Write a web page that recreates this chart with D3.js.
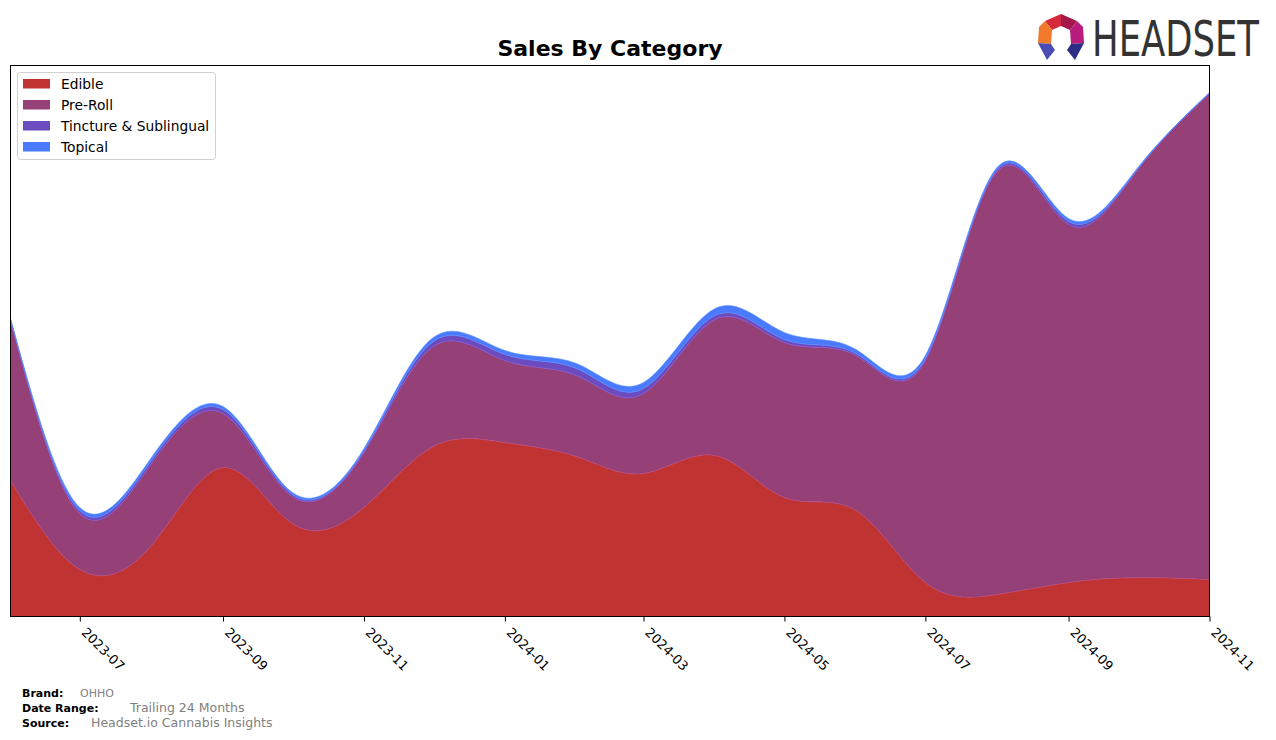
<!DOCTYPE html>
<html>
<head>
<meta charset="utf-8">
<script src="https://cdn.jsdelivr.net/npm/d3@7"></script>
<style>
  html, body { margin: 0; padding: 0; background: #fff; }
  svg { display: block; font-family: "DejaVu Sans", sans-serif; }
</style>
</head>
<body>
<svg id="chart" width="1276" height="740"></svg>
<script>
// ---- Data (arbitrary sales units) ----
const months = ["2023-06","2023-07","2023-08","2023-09","2023-10","2023-11","2023-12",
                "2024-01","2024-02","2024-03","2024-04","2024-05","2024-06","2024-07",
                "2024-08","2024-09","2024-10","2024-11"];
const categories = ["Edible", "Pre-Roll", "Tincture & Sublingual", "Topical"];
const edible   = [136, 47, 71, 149, 93, 109, 170, 174, 160, 143, 161, 119, 106, 34, 22, 34, 39, 37];
const preRoll  = [160, 56, 82, 54, 27, 55, 100, 82, 81, 80, 136, 155, 155, 222, 423, 358, 408, 486];
const tincture = [1, 3, 3, 4, 2, 2, 5, 6, 7, 5, 4, 3, 2, 2, 2, 3, 1, 0.5];
const topical  = [1, 3, 3, 3, 2, 2, 4, 4, 5, 6, 7, 7, 4, 3, 2, 3, 1, 0.5];
const xTicks = ["2023-07","2023-09","2023-11","2024-01","2024-03","2024-05","2024-07","2024-09","2024-11"];
const colors = ["#c03333", "#954077", "#6b4bbd", "#4a7aff"];

// ---- Layout ----
const svg = d3.select("#chart");
const M = { left: 10.5, right: 1209.5, top: 65.5, bottom: 616.5 };
const parse = d3.timeParse("%Y-%m");

const rows = months.map((m, i) => ({
  date: parse(m),
  "Edible": edible[i],
  "Pre-Roll": preRoll[i],
  "Tincture & Sublingual": tincture[i],
  "Topical": topical[i]
}));

const x = d3.scaleTime()
  .domain([parse(months[0]), parse(months[months.length - 1])])
  .range([M.left, M.right]);
const y = d3.scaleLinear().domain([0, 551]).range([M.bottom, M.top]);

const stack = d3.stack().keys(categories);
const series = stack(rows);

const area = d3.area()
  .x(d => x(d.data.date))
  .y0(d => y(d[0]))
  .y1(d => y(d[1]))
  .curve(d3.curveNatural);

svg.append("defs").append("clipPath").attr("id", "clip")
  .append("rect").attr("x", M.left).attr("y", M.top)
  .attr("width", M.right - M.left).attr("height", M.bottom - M.top);

const g = svg.append("g").attr("clip-path", "url(#clip)");
g.selectAll("path.layer").data(series).enter().append("path")
  .attr("class", "layer")
  .attr("d", area)
  .attr("fill", (d, i) => colors[i])
  .attr("stroke", (d, i) => d3.color(colors[i]).brighter(0.5))
  .attr("stroke-width", 0.6);

// frame
svg.append("rect")
  .attr("x", M.left).attr("y", M.top)
  .attr("width", M.right - M.left).attr("height", M.bottom - M.top)
  .attr("fill", "none").attr("stroke", "#000").attr("stroke-width", 1);

// x axis
const axis = d3.axisBottom(x)
  .tickValues(xTicks.map(parse))
  .tickFormat(d3.timeFormat("%Y-%m"))
  .tickSize(5).tickSizeOuter(0);
const ax = svg.append("g").attr("transform", `translate(0,${M.bottom})`).call(axis);
ax.select(".domain").remove();
ax.selectAll(".tick line").attr("stroke", "#000");
ax.selectAll(".tick text")
  .attr("font-size", 13).attr("fill", "#000")
  .attr("font-family", "DejaVu Sans, sans-serif")
  .attr("text-anchor", "start")
  .attr("dy", 0)
  .attr("transform", "translate(6,11) rotate(45)");

// title
svg.append("text")
  .attr("x", (M.left + M.right) / 2).attr("y", 56)
  .attr("text-anchor", "middle")
  .attr("font-size", 22).attr("font-weight", "bold")
  .text("Sales By Category");

// legend
const lg = svg.append("g");
lg.append("rect").attr("x", 17.5).attr("y", 72.5).attr("width", 198).attr("height", 87)
  .attr("rx", 3).attr("fill", "#fff").attr("stroke", "#d0d0d0");
categories.forEach((c, i) => {
  const yy = 84 + i * 21;
  lg.append("rect").attr("x", 23).attr("y", yy - 5).attr("width", 27).attr("height", 9.5)
    .attr("fill", colors[i]);
  lg.append("text").attr("x", 61).attr("y", yy + 5).attr("font-size", 13.8)
    .attr("fill", "#000").text(c);
});

// footer
const foot = [
  ["Brand:", "OHHO", 80, 11],
  ["Date Range:", "Trailing 24 Months", 130, 12.5],
  ["Source:", "Headset.io Cannabis Insights", 91, 12.5]
];
foot.forEach((f, i) => {
  const yy = 697 + i * 15;
  svg.append("text").attr("x", 22).attr("y", yy).attr("font-size", 11)
    .attr("font-weight", "bold").text(f[0]);
  svg.append("text").attr("x", f[2]).attr("y", yy).attr("font-size", f[3])
    .attr("fill", "#808080").text(f[1]);
});

// logo
const logo = svg.append("g");
const P = (pts, c) => logo.append("polygon").attr("points", pts.map(p => p.join(",")).join(" ")).attr("fill", c);
P([[1045,21],[1061,14],[1061,26],[1052,30]], "#d42a3c");
P([[1061,14],[1077,21],[1070,30],[1061,26]], "#a3174a");
P([[1045,21],[1052,30],[1051,44],[1038,43],[1039,27]], "#f0792b");
P([[1077,21],[1083,27],[1084,43],[1071,44],[1070,30]], "#b81c7c");
P([[1038,43],[1051,44],[1055,50],[1047,60]], "#4b4bb5");
P([[1084,43],[1071,44],[1067,50],[1075,60]], "#2d2d86");
logo.append("text").attr("x", 0).attr("y", 0)
  .attr("transform", "translate(1092,56) scale(1,1.4)")
  .attr("font-size", 36).attr("fill", "#333")
  .attr("font-family", "'Liberation Sans Narrow', 'DejaVu Sans Condensed', sans-serif")
  .attr("textLength", 167).attr("lengthAdjust", "spacingAndGlyphs")
  .text("HEADSET");
</script>
</body>
</html>
